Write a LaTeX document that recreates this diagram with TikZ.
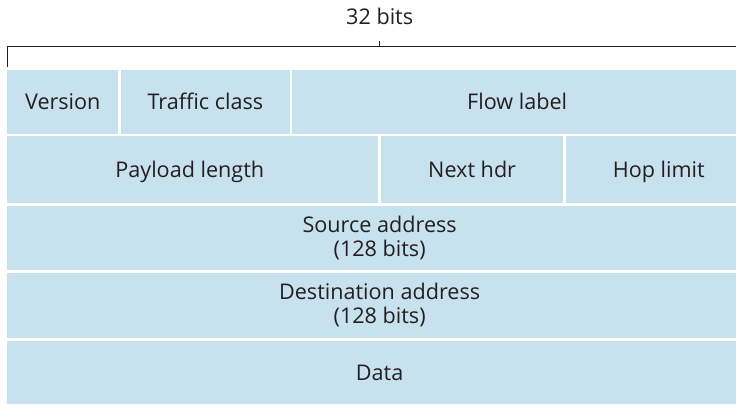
\documentclass[tikz,border=0pt]{standalone}
\usepackage{fontspec}
\setmainfont{Open Sans}
\usetikzlibrary{fit}
\definecolor{cellblue}{RGB}{200,225,238}
\definecolor{ink}{RGB}{35,31,32}
\begin{document}
\begin{tikzpicture}[x=0.5pt,y=-0.5pt,
  lbl/.style={text=ink, font=\fontsize{10.8}{12}\selectfont, inner sep=0pt},
  one/.style={lbl, anchor=base, yshift=-3.85pt},
  two/.style={lbl, anchor=center, align=center},
  cell/.style={fill=cellblue, draw=none, inner sep=0pt, outer sep=0pt},
  rule/.style={draw=ink, line width=0.55pt}]
\useasboundingbox (0,0) rectangle (736,405);
\clip (0,0) rectangle (736,405);
% row 1
\node[cell, fit={(7.3,70) (118.3,134)}] (ver) {};
\node[cell, fit={(120.7,70) (290,134)}] (tc) {};
\node[cell, fit={(292.3,70) (752,134)}] (fl) {};
% row 2
\node[cell, fit={(7.3,136.3) (378.3,203)}] (pl) {};
\node[cell, fit={(381,136.3) (563.3,203)}] (nh) {};
\node[cell, fit={(565.7,136.3) (752,203)}] (hl) {};
% rows 3-5
\node[cell, fit={(7.3,205.7) (752,270)}] (src) {};
\node[cell, fit={(7.3,272.7) (752,338.3)}] (dst) {};
\node[cell, fit={(7.3,341) (752,404.3)}] (data) {};
% labels
\node[one] (vert) at (ver.center) {Version};
\node[one] (tct) at (tc.center) {Traffic class};
\node[one, xshift=-2.5pt] (flt) at (fl.center) {Flow label};
\node[one, xshift=-1.5pt] (plt) at (pl.center) {Payload length};
\node[one] (nht) at (nh.center) {Next hdr};
\node[one] (hlt) at (hl.center) {Hop limit};
\node[two] (srct) at (src.center) {Source address\\(128 bits)};
\node[two] (dstt) at (dst.center) {Destination address\\(128 bits)};
\node[one] (datat) at (data.center) {Data};
% bracket
\node[lbl, anchor=base] (bits) at (379.7,25) {32 bits};
\coordinate (bl) at (7.3,66.7);
\coordinate (br) at (752,46.7);
\coordinate (tk) at (379.7,41.5);
\draw[rule] (bl) |- (br);
\draw[rule] (tk) -- (tk |- br);
\end{tikzpicture}
\end{document}
